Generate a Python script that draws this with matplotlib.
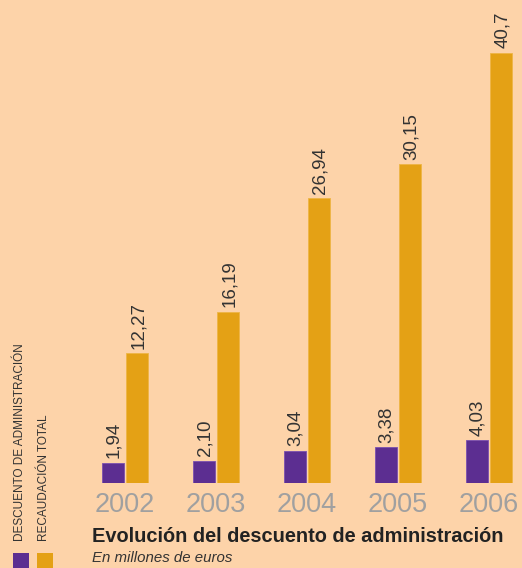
import matplotlib.pyplot as plt
from matplotlib.patches import Rectangle

years = ['2002', '2003', '2004', '2005', '2006']
descuento = [1.94, 2.10, 3.04, 3.38, 4.03]
recaudacion = [12.27, 16.19, 26.94, 30.15, 40.7]
descuento_labels = ['1,94', '2,10', '3,04', '3,38', '4,03']
recaudacion_labels = ['12,27', '16,19', '26,94', '30,15', '40,7']

bg = '#FDD3A9'
purple = '#5C2E91'
orange = '#E4A115'

plt.rcParams['font.family'] = ['Liberation Sans', 'DejaVu Sans']

fig = plt.figure(figsize=(5.22, 5.68), dpi=100)
fig.patch.set_facecolor(bg)

ax = fig.add_axes([0, 85 / 568, 1, 483 / 568])
ax.set_facecolor(bg)
for s in ax.spines.values():
    s.set_visible(False)
ax.set_xticks([])
ax.set_yticks([])

x = list(range(len(years)))
w = 0.24
off = 0.135
xp = [i - off for i in x]
xo = [i + off for i in x]
ax.bar(xp, descuento, width=w, color=purple, edgecolor='#7a4fb0', linewidth=0.6)
ax.bar(xo, recaudacion, width=w, color=orange, edgecolor='#eeb545', linewidth=0.6)

ax.set_xlim(-125 / 91, (522 - 125) / 91)
ax.set_ylim(0, 483 / 10.565)

for i in x:
    ax.text(xp[i] + 0.01, descuento[i] + 0.45, descuento_labels[i], rotation=90,
            ha='center', va='bottom', fontsize=13.5, color='#333333')
    ax.text(xo[i] + 0.01, recaudacion[i] + 0.45, recaudacion_labels[i], rotation=90,
            ha='center', va='bottom', fontsize=13.5, color='#333333')
    ax.text(i, -2.1, years[i], ha='center', va='center', fontsize=19.5,
            color='#a0a0a0', clip_on=False)

# title and subtitle
fig.text(92 / 522, 1 - 537 / 568, 'Evolución del descuento de administración',
         fontsize=14.4, fontweight='bold', color='#222222', ha='left', va='center')
fig.text(92 / 522, 1 - 558 / 568, 'En millones de euros',
         fontsize=10.8, style='italic', color='#333333', ha='left', va='center')

# legend
fig.patches.append(Rectangle((13 / 522, 0), 16 / 522, 15 / 568, transform=fig.transFigure,
                             facecolor=purple, edgecolor='none'))
fig.patches.append(Rectangle((37 / 522, 0), 16 / 522, 15 / 568, transform=fig.transFigure,
                             facecolor=orange, edgecolor='none'))
fig.text(20 / 522, 1 - 541 / 568, 'DESCUENTO DE ADMINISTRACIÓN', rotation=90,
         ha='center', va='bottom', fontsize=8.5, color='#333333')
fig.text(44 / 522, 1 - 541 / 568, 'RECAUDACIÓN TOTAL', rotation=90,
         ha='center', va='bottom', fontsize=8.5, color='#333333')

fig.savefig('out.png', dpi=100, facecolor=bg)
